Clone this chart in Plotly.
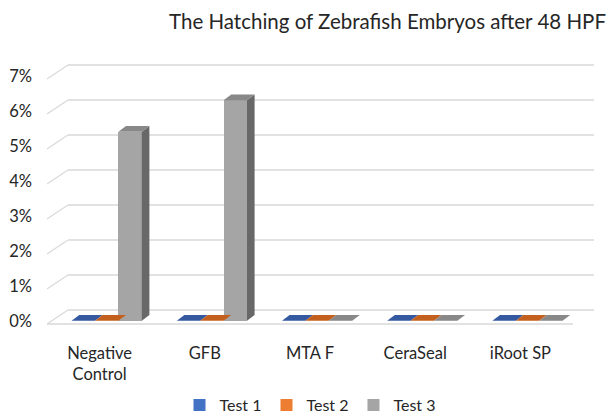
import plotly.graph_objects as go

# ---------------- data ----------------
categories = ["Negative<br>Control", "GFB", "MTA F", "CeraSeal", "iRoot SP"]
series_names = ["Test 1", "Test 2", "Test 3"]
test1 = [0, 0, 0, 0, 0]
test2 = [0, 0, 0, 0, 0]
test3 = [5.4, 6.3, 0, 0, 0]
y_ticks = [0, 1, 2, 3, 4, 5, 6, 7]
y_tick_labels = ["0%", "1%", "2%", "3%", "4%", "5%", "6%", "7%"]
title_text = "The Hatching of Zebrafish Embryos after 48 HPF"

# ---------------- style / geometry ----------------
FONT = "Lato"
TXT = "#262626"
GRID = "#D9D9D9"
front_colors = ["#4472C4", "#ED7D31", "#A5A5A5"]
top_colors = ["#3559A0", "#C4601E", "#888888"]
side_colors = ["#2A4778", "#9A4A16", "#686868"]

OFF = 8  # page body margin of the browser
W, H = 614 - OFF, 416 - OFF
PXX = 105.2   # px per category unit
PXY = 35.0    # px per percent
L = 47 - OFF
T = 56 - OFF
R = W - (600 - OFF)
B = H - (336 - OFF)
plot_w = W - L - R
plot_h = H - T - B
x_range = [-0.5, -0.5 + plot_w / PXX]
y_bottom = -(336 - 324) / PXY
y_range = [y_bottom, y_bottom + plot_h / PXY]

WALL_DX = 21 / PXX
WALL_DY = 14 / PXY
BAR_W = 23.4 / PXX
GROUP_SHIFT = 7.1 / PXX
FACE_BASE = 3.3 / PXY
BAR_DX = 7.6 / PXX
BAR_DY = 5.7 / PXY

n = len(categories)
series = [test1, test2, test3]

fig = go.Figure()

# front faces (bars)
for k, (name, vals) in enumerate(zip(series_names, series)):
    xs = [i + GROUP_SHIFT + (k - 1) * BAR_W for i in range(n)]
    fig.add_trace(go.Bar(
        x=xs, y=vals, base=FACE_BASE, width=BAR_W, name=name,
        marker=dict(color=front_colors[k], line=dict(width=0)),
        hoverinfo="skip",
    ))

# side and top faces
for k, vals in enumerate(series):
    for i, v in enumerate(vals):
        xc = i + GROUP_SHIFT + (k - 1) * BAR_W
        x0, x1 = xc - BAR_W / 2, xc + BAR_W / 2
        b = FACE_BASE
        if v > 0:
            fig.add_trace(go.Scatter(
                x=[x1, x1 + BAR_DX, x1 + BAR_DX, x1, x1],
                y=[b, b + BAR_DY, b + v + BAR_DY, b + v, b],
                mode="lines", fill="toself", fillcolor=side_colors[k],
                line=dict(width=0), showlegend=False, hoverinfo="skip"))
        fig.add_trace(go.Scatter(
            x=[x0, x1, x1 + BAR_DX, x0 + BAR_DX, x0],
            y=[b + v, b + v, b + v + BAR_DY, b + v + BAR_DY, b + v],
            mode="lines", fill="toself", fillcolor=top_colors[k],
            line=dict(width=0), showlegend=False, hoverinfo="skip"))

# gridlines on walls (below the bars)
shapes = []
x_left = -0.5
x_right = n - 0.5
for t in y_ticks:
    shapes.append(dict(type="line", xref="x", yref="y", layer="below",
                       x0=x_left, y0=t, x1=x_left + WALL_DX, y1=t + WALL_DY,
                       line=dict(color=GRID, width=1.2)))
    shapes.append(dict(type="line", xref="x", yref="y", layer="below",
                       x0=x_left + WALL_DX, y0=t + WALL_DY,
                       x1=x_right + WALL_DX, y1=t + WALL_DY,
                       line=dict(color=GRID, width=1.5)))
# floor front edge
shapes.append(dict(type="line", xref="x", yref="y", layer="below",
                   x0=x_left, y0=0, x1=x_right, y1=0,
                   line=dict(color=GRID, width=1.5)))

fig.update_layout(
    width=W, height=H,
    margin=dict(l=L, r=R, t=T, b=B, autoexpand=False),
    paper_bgcolor="white", plot_bgcolor="white",
    barmode="overlay", bargap=0,
    shapes=shapes,
    font=dict(family=FONT, size=16.5, color=TXT),
    title=dict(text=title_text, font=dict(family=FONT, size=20.5, color=TXT),
               xref="container", yref="container",
               x=(387.5 - OFF) / W, y=1 - (22 - OFF) / H,
               xanchor="center", yanchor="middle"),
    legend=dict(orientation="h", xref="container", yref="container",
                x=(310 - OFF) / W, y=1 - (405 - OFF) / H,
                xanchor="center", yanchor="middle",
                font=dict(size=16, color=TXT), traceorder="normal",
                itemwidth=30),
    xaxis=dict(range=x_range, showgrid=False, zeroline=False, showline=False,
               tickmode="array", tickvals=list(range(n)), ticktext=categories,
               ticks="", ticklabelstandoff=5, fixedrange=True),
    yaxis=dict(range=y_range, showgrid=False, zeroline=False, showline=False,
               tickmode="array", tickvals=y_ticks, ticktext=y_tick_labels,
               ticks="", ticklabelstandoff=14, ticklabelshift=-3,
               fixedrange=True),
)

fig.write_html("out.html")
